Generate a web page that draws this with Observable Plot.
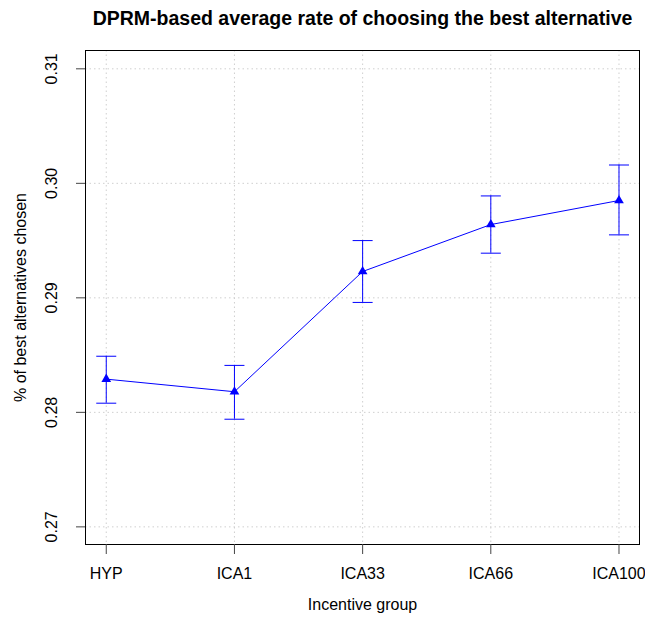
<!DOCTYPE html>
<html>
<head>
<meta charset="utf-8">
<script src="https://cdn.jsdelivr.net/npm/d3@7"></script>
<script src="https://cdn.jsdelivr.net/npm/@observablehq/plot@0.6"></script>
<style>
  body { margin: 0; background: #fff; }
  #chart svg { font-family: "Liberation Sans", Arial, Helvetica, sans-serif; }
</style>
</head>
<body>
<div id="chart"></div>
<script>
const groups = ["HYP", "ICA1", "ICA33", "ICA66", "ICA100"];
const means = [0.2829, 0.2818, 0.2923, 0.2964, 0.2985];
const lower = [0.2808, 0.2794, 0.2896, 0.2939, 0.2955];
const upper = [0.2849, 0.2841, 0.2950, 0.2989, 0.3016];
const yTicks = [0.27, 0.28, 0.29, 0.30, 0.31];
const titleText = "DPRM-based average rate of choosing the best alternative";
const xTitle = "Incentive group";
const yTitle = "% of best alternatives chosen";

const data = groups.map((g, i) => ({g, pos: i + 1, mean: means[i], lo: lower[i], hi: upper[i]}));
const xTicks = groups.map((g, i) => i + 1);

const cap = {
  draw(ctx, size) {
    const r = Math.sqrt(size / Math.PI);
    ctx.moveTo(-r, 0);
    ctx.lineTo(r, 0);
  }
};

const blue = "#0000ff";

const chart = Plot.plot({
  width: 645,
  height: 626,
  marginLeft: 85,
  marginRight: 6,
  marginTop: 50,
  marginBottom: 82,
  style: {fontFamily: "Liberation Sans, Arial, sans-serif", fontSize: "16px", background: "#fff"},
  x: {domain: [0.838, 5.16], label: null},
  y: {domain: [0.26846, 0.3116], label: null},
  marks: [
    Plot.gridX(xTicks, {stroke: "#cfcfcf", strokeOpacity: 1, strokeDasharray: "1.5,3"}),
    Plot.gridY(yTicks, {stroke: "#cfcfcf", strokeOpacity: 1, strokeDasharray: "1.5,3"}),
    Plot.frame({stroke: "#000"}),
    Plot.axisX(xTicks, {tickSize: 10, tickPadding: 13, tickFormat: d => groups[d - 1], fontSize: 16, stroke: "#444", fill: "#000"}),
    Plot.axisY(yTicks, {tickSize: 9, tickPadding: 20, tickFormat: ".2f", tickRotate: -90, textAnchor: "middle", fontSize: 16, stroke: "#444", fill: "#000"}),
    Plot.ruleX(data, {x: "pos", y1: "lo", y2: "hi", stroke: blue, strokeWidth: 1}),
    Plot.dot(data, {x: "pos", y: "lo", symbol: cap, r: 10, stroke: blue, strokeWidth: 1}),
    Plot.dot(data, {x: "pos", y: "hi", symbol: cap, r: 10, stroke: blue, strokeWidth: 1}),
    Plot.line(data, {x: "pos", y: "mean", stroke: blue, strokeWidth: 1}),
    Plot.dot(data, {x: "pos", y: "mean", symbol: "triangle", r: 3.6, fill: blue, stroke: "none"}),
    Plot.text([titleText], {frameAnchor: "top", dy: -39.5, textAnchor: "middle", fontWeight: "bold", fontSize: 19.5, fill: "#000"}),
    Plot.text([xTitle], {frameAnchor: "bottom", dy: 65, textAnchor: "middle", fontSize: 16, fill: "#000"}),
    Plot.text([yTitle], {frameAnchor: "left", dx: -65, rotate: -90, textAnchor: "middle", fontSize: 16, fill: "#000"})
  ]
});
document.getElementById("chart").appendChild(chart);
</script>
</body>
</html>
